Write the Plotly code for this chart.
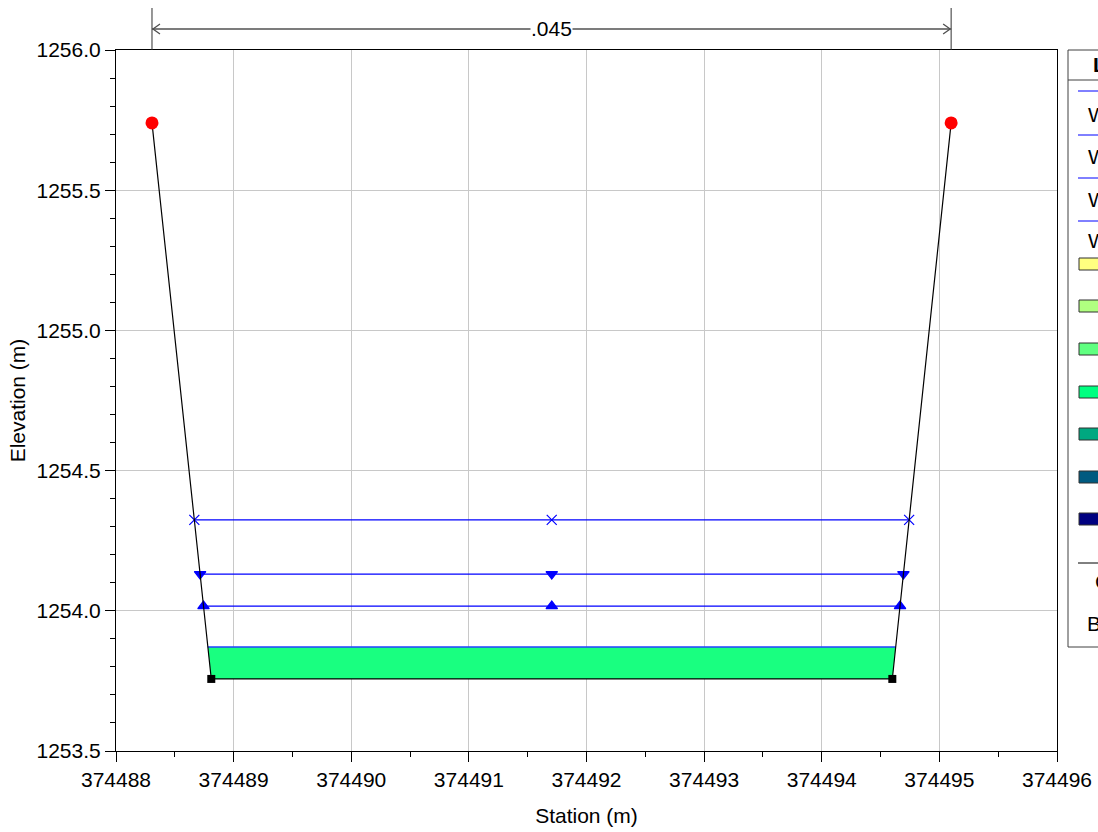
import numpy as np
import plotly.graph_objects as go

# ---- data ----
ground_sta = [374488.306, 374488.81, 374494.60, 374495.10]
ground_elev = [1255.74, 1253.757, 1253.757, 1255.74]
bank_sta = [374488.306, 374495.10]
bank_elev = [1255.74, 1255.74]
ws_names = ["WS PF 4", "WS PF 3", "WS PF 2", "WS PF 1"]
ws_elev = [1254.324, 1254.131, 1254.017, 1253.871]
ws_symbols = ["x-thin-open", "triangle-down", "triangle-up", None]
vel_colors = ["#ffff80", "#b0ff80", "#60ff80", "#00ff80", "#00a880", "#005a80", "#000080"]
fill_color = "#19ff80"
n_value = ".045"
x_title = "Station (m)"
y_title = "Elevation (m)"

FONT = "Liberation Sans, Arial, sans-serif"
FS = 21
W, H = 1098, 832
ML, MR, MT, MB = 116, 41, 50, 81
PW, PH = W - ML - MR, H - MT - MB


def px(xp):
    return (xp - ML) / PW


def py(yp):
    return (H - MB - yp) / PH


def ws_edges(elev):
    # intersection of a water surface with the left and right ground banks
    left = np.interp(elev, ground_elev[1::-1], ground_sta[1::-1])
    right = np.interp(elev, ground_elev[2:], ground_sta[2:])
    return left, right


fig = go.Figure()

# velocity fill (lowest WS)
l, r = ws_edges(ws_elev[-1])
fig.add_trace(go.Scatter(
    x=[ground_sta[1], l, r, ground_sta[2], ground_sta[1]],
    y=[ground_elev[1], ws_elev[-1], ws_elev[-1], ground_elev[2], ground_elev[1]],
    fill="toself", fillcolor=fill_color, line=dict(width=0), mode="lines",
    showlegend=False, hoverinfo="skip"))

# water surfaces
for name, e, sym in zip(ws_names, ws_elev, ws_symbols):
    l, r = ws_edges(e)
    if sym is None:
        fig.add_trace(go.Scatter(x=[l, r], y=[e, e], mode="lines",
                                 line=dict(color="#2040ff", width=1.5),
                                 name=name, showlegend=False))
    else:
        fig.add_trace(go.Scatter(x=[l, (l + r) / 2, r], y=[e, e, e], mode="lines+markers",
                                 line=dict(color="#0000ff", width=1.2),
                                 marker=dict(symbol=sym, size=10, color="#0000ff",
                                             line=dict(color="#0000ff", width=1.2)),
                                 name=name, showlegend=False))

# ground
fig.add_trace(go.Scatter(x=ground_sta, y=ground_elev, mode="lines",
                         line=dict(color="black", width=1.2), name="Ground", showlegend=False))
fig.add_trace(go.Scatter(x=ground_sta[1:3], y=ground_elev[1:3], mode="markers",
                         marker=dict(symbol="square", size=8, color="black"),
                         showlegend=False, hoverinfo="skip"))
fig.add_trace(go.Scatter(x=bank_sta, y=bank_elev, mode="markers",
                         marker=dict(symbol="circle", size=13, color="#ff0000"),
                         name="Bank Sta", showlegend=False))

shapes = []
annotations = []

# Manning's n dimension
dim_col = "#505050"
ytop = py(8)
yarr = py(29)
for s in bank_sta:
    shapes.append(dict(type="line", xref="x", yref="paper", x0=s, x1=s, y0=1, y1=ytop,
                       line=dict(color="#303030", width=1)))
shapes.append(dict(type="line", xref="x", yref="paper", x0=bank_sta[0], x1=bank_sta[1],
                   y0=yarr, y1=yarr, line=dict(color=dim_col, width=1.5)))
shapes.append(dict(type="path", xref="x", yref="paper", xsizemode="pixel", ysizemode="pixel",
                   xanchor=bank_sta[0], yanchor=yarr, path="M 8,5 L 1,0 L 8,-5",
                   line=dict(color=dim_col, width=1.3)))
shapes.append(dict(type="path", xref="x", yref="paper", xsizemode="pixel", ysizemode="pixel",
                   xanchor=bank_sta[1], yanchor=yarr, path="M -8,5 L -1,0 L -8,-5",
                   line=dict(color=dim_col, width=1.3)))
annotations.append(dict(text=n_value, xref="x", yref="paper", x=(bank_sta[0] + bank_sta[1]) / 2,
                        y=yarr, showarrow=False, bgcolor="white", xanchor="center",
                        yanchor="middle", font=dict(family=FONT, size=FS, color="black"),
                        borderpad=0))

# manual legend (cut off by the page edge, as in the reference)
lx0, lx1 = px(1068), px(1200)
shapes.append(dict(type="rect", xref="paper", yref="paper", x0=lx0, x1=lx1, y0=py(647), y1=1,
                   line=dict(color="#404040", width=1), fillcolor="white", layer="below"))
shapes.append(dict(type="line", xref="paper", yref="paper", x0=lx0, x1=lx1, y0=py(80), y1=py(80),
                   line=dict(color="#404040", width=1)))
cx = px(1130)


def legend_text(txt, ypix):
    annotations.append(dict(text=txt, xref="paper", yref="paper", x=cx, y=py(ypix),
                            xanchor="center", yanchor="middle", showarrow=False,
                            font=dict(family=FONT, size=FS, color="black")))


legend_text("<b>Legend</b>", 65)
ws_line_y = [91, 135, 178, 221]
ws_text_y = [115, 157, 199, 240]
for name, ly, ty in zip(ws_names, ws_line_y, ws_text_y):
    shapes.append(dict(type="line", xref="paper", yref="paper", x0=px(1078), x1=px(1180),
                       y0=py(ly), y1=py(ly), line=dict(color="#0000ff", width=1)))
    legend_text(name, ty)
sq_y = [264, 306, 349, 392, 434, 477, 519]
for c, sy in zip(vel_colors, sq_y):
    shapes.append(dict(type="rect", xref="paper", yref="paper", x0=px(1079), x1=px(1110),
                       y0=py(sy + 6), y1=py(sy - 6), fillcolor=c,
                       line=dict(color="#303030", width=1)))
shapes.append(dict(type="line", xref="paper", yref="paper", x0=px(1078), x1=px(1180),
                   y0=py(563), y1=py(563), line=dict(color="black", width=1)))
legend_text("Ground", 581)
legend_text("Bank Sta", 623)

axis_common = dict(showline=True, linecolor="black", linewidth=1.2, mirror=True,
                   ticks="outside", ticklen=10, tickcolor="black", tickwidth=1,
                   showgrid=True, gridcolor="#c8c8c8", gridwidth=1, zeroline=False,
                   automargin=False,
                   tickfont=dict(family=FONT, size=FS, color="black"))

fig.update_layout(
    width=W, height=H, autosize=False,
    margin=dict(l=ML, r=MR, t=MT, b=MB, pad=0),
    paper_bgcolor="white", plot_bgcolor="white",
    showlegend=False,
    shapes=shapes, annotations=annotations,
    xaxis=dict(range=[374488, 374496], dtick=1, tick0=374488, tickformat="d",
               minor=dict(dtick=0.5, ticks="outside", ticklen=5, tickcolor="black", showgrid=False),
               title=dict(text=x_title, font=dict(family=FONT, size=FS, color="black"), standoff=18),
               **axis_common),
    yaxis=dict(range=[1253.5, 1256.0], dtick=0.5, tick0=1253.5, tickformat=".1f",
               minor=dict(dtick=0.1, ticks="outside", ticklen=5, tickcolor="black", showgrid=False),
               title=dict(text=y_title, font=dict(family=FONT, size=FS, color="black"), standoff=5),
               **axis_common),
)

fig.write_html("out.html", config={"displayModeBar": False},
               post_script="document.body.style.margin='0';document.body.style.overflow='hidden';")
